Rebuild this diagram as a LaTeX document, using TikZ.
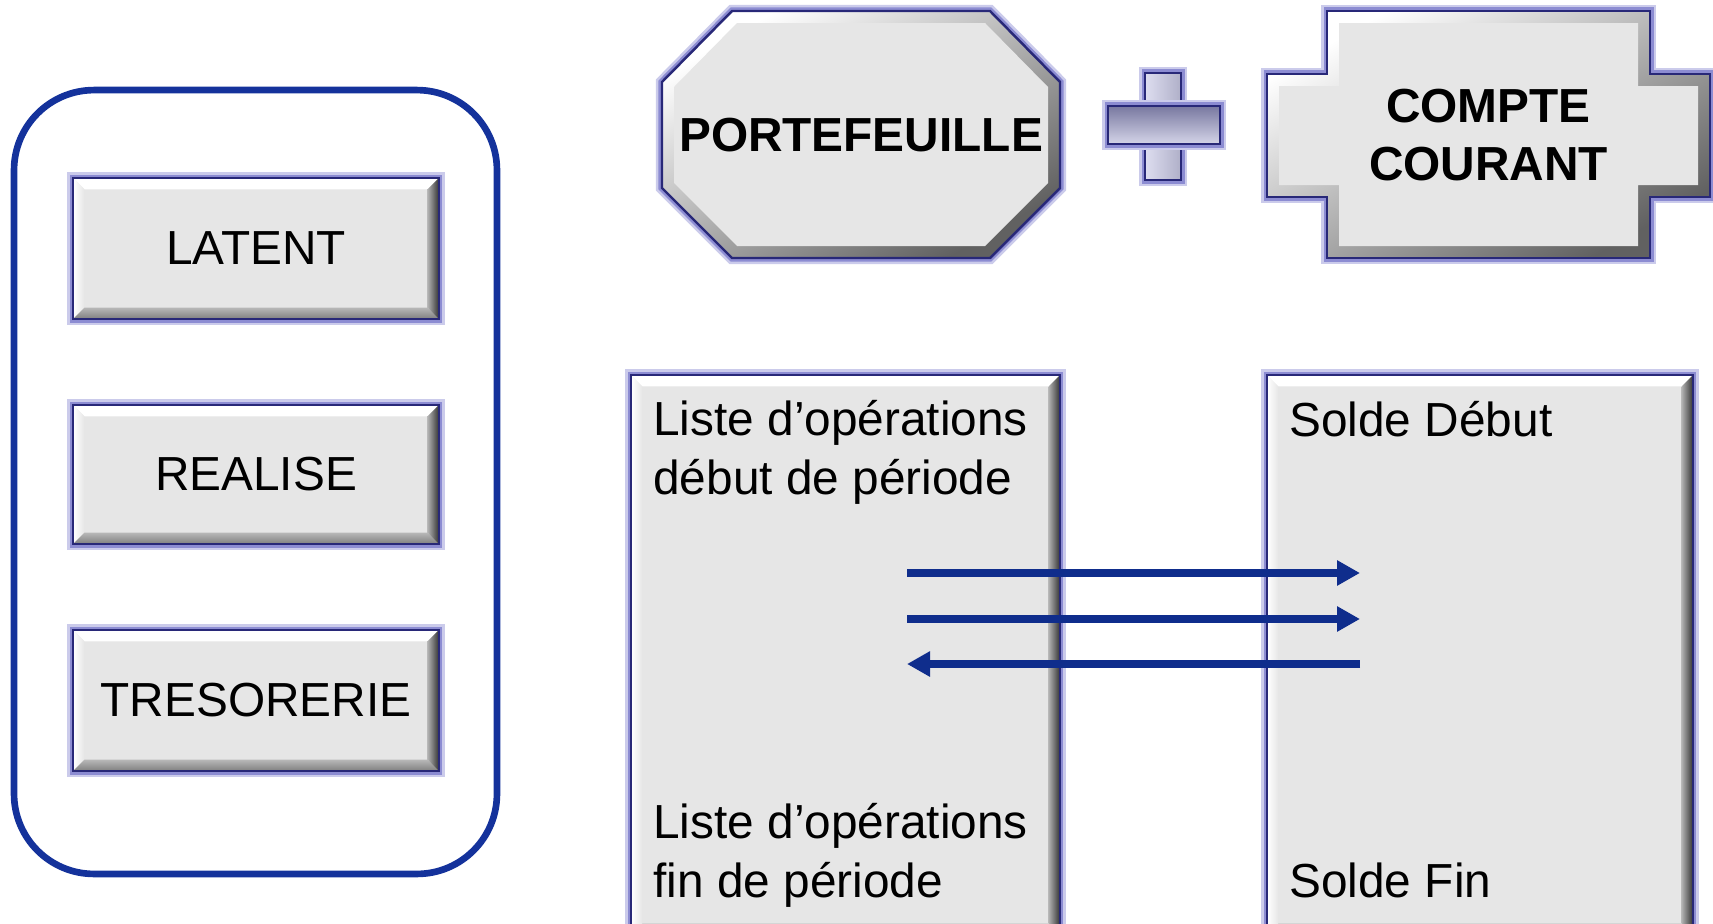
\documentclass[tikz,border=0pt]{standalone}
\usepackage{fontspec}
\setmainfont{Liberation Sans}
\usetikzlibrary{positioning,arrows.meta,calc}

\definecolor{framecol}{RGB}{20,50,155}
\definecolor{edgecol}{RGB}{40,40,120}
\definecolor{glowcol}{RGB}{140,140,210}
\definecolor{boxgray}{RGB}{230,230,230}
\definecolor{arrowcol}{RGB}{15,45,140}
\definecolor{plusdark}{RGB}{120,120,160}
\definecolor{pluslight}{RGB}{222,222,240}
\definecolor{plusmid}{RGB}{175,175,200}

\newcommand{\txtfont}{\fontsize{27.2}{33.2}\selectfont}

\begin{document}
\begin{tikzpicture}[x=0.02cm, y=-0.02cm,
    glow/.style={preaction={draw=glowcol!45, line width=7pt},
                 preaction={draw=glowcol, line width=4pt}},
    bevel/.style={path picture={
        \coordinate (pnw) at (path picture bounding box.north west);
        \coordinate (pne) at (path picture bounding box.north east);
        \coordinate (psw) at (path picture bounding box.south west);
        \coordinate (pse) at (path picture bounding box.south east);
        \fill[white] (pnw) -- (pne) -- ([shift={(-6.5pt,-6.5pt)}]pne)
            -- ([shift={(6.5pt,-6.5pt)}]pnw) -- cycle;
        \shade[left color=white, right color=boxgray] (pnw)
            -- ([shift={(6.5pt,-6.5pt)}]pnw) -- ([shift={(6.5pt,6.5pt)}]psw) -- (psw) -- cycle;
        \shade[top color=black!28, bottom color=black!50] (psw) -- (pse)
            -- ([shift={(-6.5pt,6.5pt)}]pse) -- ([shift={(6.5pt,6.5pt)}]psw) -- cycle;
        \shade[left color=black!30, right color=black!80] (pne) -- (pse)
            -- ([shift={(-6.5pt,6.5pt)}]pse) -- ([shift={(-6.5pt,-6.5pt)}]pne) -- cycle;
    }},
    box/.style={rectangle, glow, draw=edgecol, line width=1.4pt, fill=boxgray,
                bevel, inner sep=0pt, font=\txtfont},
    poly/.style={glow, draw=edgecol, line width=1.4pt, line join=miter,
                 top color=white, bottom color=black!62, shading angle=30},
    plusbar/.style={glow, draw=edgecol, line width=1.4pt},
    frame/.style={draw=framecol, line width=3.8pt, rounded corners=1.6cm,
                  minimum width=9.66cm, minimum height=15.68cm},
    txt/.style={inner sep=0pt, align=left, font=\txtfont},
    flow/.style={draw=arrowcol, line width=4pt, -{Triangle[length=0.46cm, width=0.48cm]}}
  ]
  \path[use as bounding box] (0,0) rectangle (1713,923);
  \clip (0,0) rectangle (1713,923);

  % left group
  \node[frame] (grp) at (255.5,482) {};
  \node[box, minimum width=7.32cm, minimum height=2.82cm] (latent) at (256,248.5) {LATENT};
  \node[box, minimum width=7.32cm, minimum height=2.78cm] (realise) at (256,474.5) {REALISE};
  \node[box, minimum width=7.32cm, minimum height=2.82cm] (treso) at (256,700.5) {TRESORERIE};

  % portefeuille + compte courant
  \draw[poly] (662,82) -- (732,11) -- (990,11) -- (1060,82) -- (1060,188)
      -- (990,258) -- (732,258) -- (662,188) -- cycle;
  \fill[boxgray] (674,87) -- (737,23) -- (985,23) -- (1048,87) -- (1048,183)
      -- (985,246) -- (737,246) -- (674,183) -- cycle;
  \node[font=\txtfont\bfseries] (porte) at (861,135) {PORTEFEUILLE};

  \draw[plusbar, left color=pluslight, right color=plusmid] (1145,73) rectangle (1181,180);
  \draw[plusbar, top color=plusdark, middle color=pluslight, bottom color=pluslight!80!plusmid] (1108,106) rectangle (1220,144);

  \draw[poly] (1327,11) -- (1650,11) -- (1650,74) -- (1710,74) -- (1710,197)
      -- (1650,197) -- (1650,258) -- (1327,258) -- (1327,197) -- (1267,197)
      -- (1267,74) -- (1327,74) -- cycle;
  \fill[boxgray] (1339,23) -- (1638,23) -- (1638,86) -- (1698,86) -- (1698,185)
      -- (1638,185) -- (1638,246) -- (1339,246) -- (1339,185) -- (1279,185)
      -- (1279,86) -- (1339,86) -- cycle;
  \node[font=\txtfont\bfseries, align=center] (compte) at (1488.5,135) {COMPTE\\COURANT};

  % operations / soldes
  \node[box, minimum width=8.58cm, minimum height=11.2cm] (ops) at (845.5,655) {};
  \node[box, minimum width=8.52cm, minimum height=11.2cm] (solde) at (1480,655) {};

  \node[txt, anchor=base west] (opsdeb) at (653,494) {Liste d’opérations\\début de période};
  \node[txt, anchor=base west] (opsfin) at (653,897) {Liste d’opérations\\fin de période};
  \node[txt, anchor=base west] (soldedeb) at (1289,436) {Solde Début};
  \node[txt, anchor=base west] (soldefin) at (1289,897) {Solde Fin};

  \coordinate (a1) at (907,573);  \coordinate (b1) at (1360,573);
  \coordinate (a2) at (907,619);  \coordinate (b2) at (1360,619);
  \coordinate (a3) at (907,664);  \coordinate (b3) at (1360,664);
  \path (a1) edge[flow] (b1)
        (a2) edge[flow] (b2)
        (b3) edge[flow] (a3);
\end{tikzpicture}
\end{document}
